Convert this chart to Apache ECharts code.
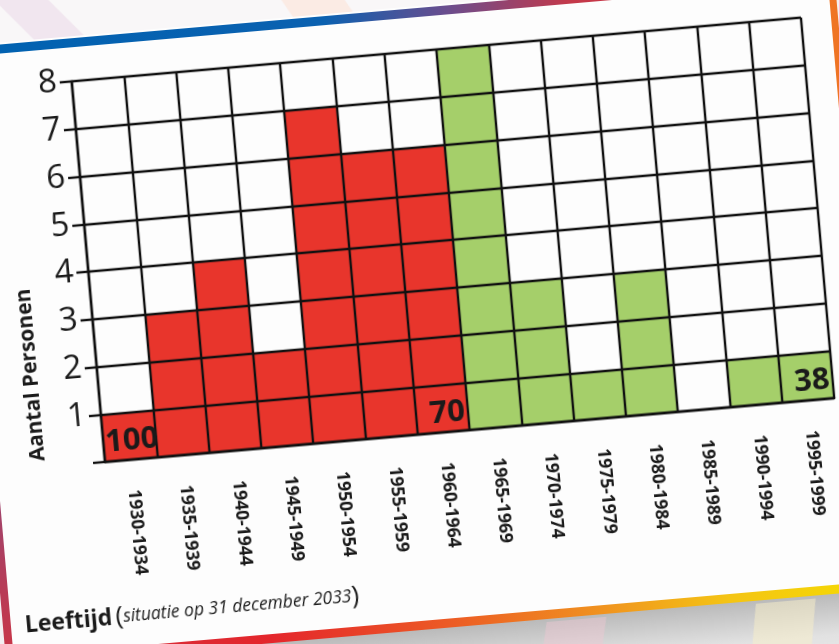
<!DOCTYPE html>
<html>
<head>
<meta charset="utf-8">
<script src="https://cdn.jsdelivr.net/npm/echarts@6/dist/echarts.min.js"></script>
<style>
  html, body { margin: 0; padding: 0; width: 839px; height: 644px; overflow: hidden; background: #f6f4f5; }
  #wrap { position: absolute; left: -40px; top: -40px; width: 919px; height: 724px; transform: rotate(-5deg); transform-origin: 50% 50%; }
</style>
</head>
<body>
<div id="wrap"></div>
<script>
// ---- data ----
const categories = ['1930-1934','1935-1939','1940-1944','1945-1949','1950-1954','1955-1959','1960-1964',
                    '1965-1969','1970-1974','1975-1979','1980-1984','1985-1989','1990-1994','1995-1999'];
const persons = [1, 3, 4, 2, 7, 6, 6, 8, 3, 1, 3, 0, 1, 1];
const ageLabels = ['100', '', '', '', '', '', '70', '', '', '', '', '', '', '38'];
const yTicks = [0, 1, 2, 3, 4, 5, 6, 7, 8];
const lastRedCategory = '1960-1964';
const yTitle = 'Aantal Personen';
const xTitleBold = 'Leeftijd';
const xTitleRest = 'situatie op 31 december 2033';

// ---- chart ----
const RED = '#e8352c';
const GREEN = '#a5cf6a';
const redIdx = categories.indexOf(lastRedCategory);
const chart = echarts.init(document.getElementById('wrap'), null, { renderer: 'canvas' });

const option = {
  backgroundColor: '#fdfdfd',
  animation: false,
  grid: { left: 134, top: 92, width: 732, height: 382, show: false },
  xAxis: {
    type: 'category',
    data: categories,
    z: 5,
    axisLine: { show: true, lineStyle: { color: '#111', width: 2.4 } },
    axisTick: { show: false },
    splitLine: { show: true, interval: 0, lineStyle: { color: '#111', width: 2.4 } },
    axisLabel: {
      interval: 0, rotate: -90, margin: 30,
      fontFamily: 'Open Sans', fontWeight: 'bold', fontSize: 17.5, color: '#1a1a1a'
    }
  },
  yAxis: {
    type: 'value',
    min: yTicks[0], max: yTicks[yTicks.length - 1], interval: 1,
    z: 5,
    axisLine: { show: true, lineStyle: { color: '#111', width: 2.4 } },
    axisTick: { show: true, length: 12, lineStyle: { color: '#111', width: 2.4 } },
    splitLine: { show: true, lineStyle: { color: '#111', width: 2.4 } },
    axisLabel: {
      margin: 15,
      fontFamily: 'Open Sans', fontSize: 33, color: '#1a1a1a',
      formatter: v => (v === 0 ? '' : String(v))
    }
  },
  series: [
    {
      type: 'bar',
      data: persons,
      barWidth: '100%',
      z: 2,
      itemStyle: { color: p => (p.dataIndex <= redIdx ? RED : GREEN) }
    },
    {
      type: 'bar',
      data: persons,
      barWidth: '100%',
      barGap: '-100%',
      z: 10,
      itemStyle: { color: 'rgba(0,0,0,0)' },
      label: {
        show: true,
        formatter: p => ageLabels[p.dataIndex],
        position: 'insideBottomRight',
        fontFamily: 'Open Sans', fontWeight: 'bold', fontSize: 31, color: '#1a1a1a',
        distance: 3
      },
      labelLayout: p => (p.dataIndex === 0 ? { dx: 6 } : {})
    }
  ],
  graphic: [
    // background above the card
    { type: 'rect', z: -5, shape: { x: -100, y: -200, width: 1200, height: 247 }, style: { fill: '#f9f7f8' } },
    { type: 'polygon', z: -4, shape: { points: [[10, -60], [60, -60], [150, 47], [100, 47]] }, style: { fill: '#f1e6ef' } },
    { type: 'polygon', z: -4, shape: { points: [[300, -60], [360, -60], [420, 47], [360, 47]] }, style: { fill: '#fbebe4' } },
    { type: 'polygon', z: -4, shape: { points: [[720, -60], [790, -60], [800, 47], [740, 47]] }, style: { fill: '#f4e6ee' } },
    // top stripe
    { type: 'rect', z: -3, shape: { x: 18, y: 49, width: 885, height: 9 },
      style: { fill: new echarts.graphic.LinearGradient(0, 0, 1, 0, [
        { offset: 0, color: '#0062b1' }, { offset: 0.42, color: '#0b61b0' },
        { offset: 0.56, color: '#6a4d8e' }, { offset: 0.7, color: '#c4394a' }, { offset: 1, color: '#d8333a' }]) } },
    // right stripe
    { type: 'rect', z: -3, shape: { x: 896, y: 49, width: 7, height: 620 }, style: { fill: '#ef7424' } },
    // left stripe
    { type: 'rect', z: -3, shape: { x: 18, y: 49, width: 8, height: 620 },
      style: { fill: new echarts.graphic.LinearGradient(0, 0, 0, 1, [
        { offset: 0, color: '#0062b1' }, { offset: 0.6, color: '#8a4c80' }, { offset: 1, color: '#cc3444' }]) } },
    // area outside card left/right
    { type: 'rect', z: -5, shape: { x: -100, y: 47, width: 118, height: 700 }, style: { fill: '#f3eff1' } },
    { type: 'rect', z: -5, shape: { x: 903, y: 47, width: 120, height: 700 }, style: { fill: '#f3eff1' } },
    // bottom shadow + stripe
    { type: 'rect', z: -5, shape: { x: -100, y: 668, width: 1200, height: 120 },
      style: { fill: new echarts.graphic.LinearGradient(0, 0, 0, 1, [
        { offset: 0, color: '#b9b9b9' }, { offset: 0.35, color: '#e2e2e2' }, { offset: 1, color: '#f3f3f3' }]) } },
    { type: 'polygon', z: -4, shape: { points: [[560, 672], [620, 672], [600, 760], [540, 760]] }, style: { fill: 'rgba(240,200,210,0.45)' } },
    { type: 'polygon', z: -4, shape: { points: [[770, 672], [830, 672], [815, 760], [755, 760]] }, style: { fill: 'rgba(250,240,200,0.5)' } },
    { type: 'rect', z: -3, shape: { x: 18, y: 660, width: 885, height: 9 },
      style: { fill: new echarts.graphic.LinearGradient(0, 0, 1, 0, [
        { offset: 0, color: '#cc3444' }, { offset: 0.3, color: '#e4262c' }, { offset: 0.5, color: '#ec5a25' },
        { offset: 0.68, color: '#f0941f' }, { offset: 0.82, color: '#f4c414' }, { offset: 1, color: '#f5dd00' }]) } },
    // y axis title
    { type: 'text', z: 20, x: 68, y: 381, rotation: Math.PI / 2,
      style: { text: yTitle, fontFamily: 'Open Sans', fontWeight: 'bold', fontSize: 21, fill: '#1a1a1a',
               align: 'center', verticalAlign: 'middle' } },
    // x axis title
    { type: 'text', z: 20, x: 40, y: 630,
      style: {
        text: '{b|' + xTitleBold + '} {p|(}{i|' + xTitleRest + '}{p|)}',
        verticalAlign: 'middle', align: 'left',
        rich: {
          b: { fontFamily: 'Open Sans', fontWeight: 'bold', fontSize: 23, fill: '#1a1a1a' },
          p: { fontFamily: 'Open Sans', fontSize: 26, fill: '#1a1a1a' },
          i: { fontFamily: 'Open Sans', fontStyle: 'italic', fontSize: 17.5, fill: '#1a1a1a' }
        }
      } }
  ]
};
chart.setOption(option);
</script>
</body>
</html>
